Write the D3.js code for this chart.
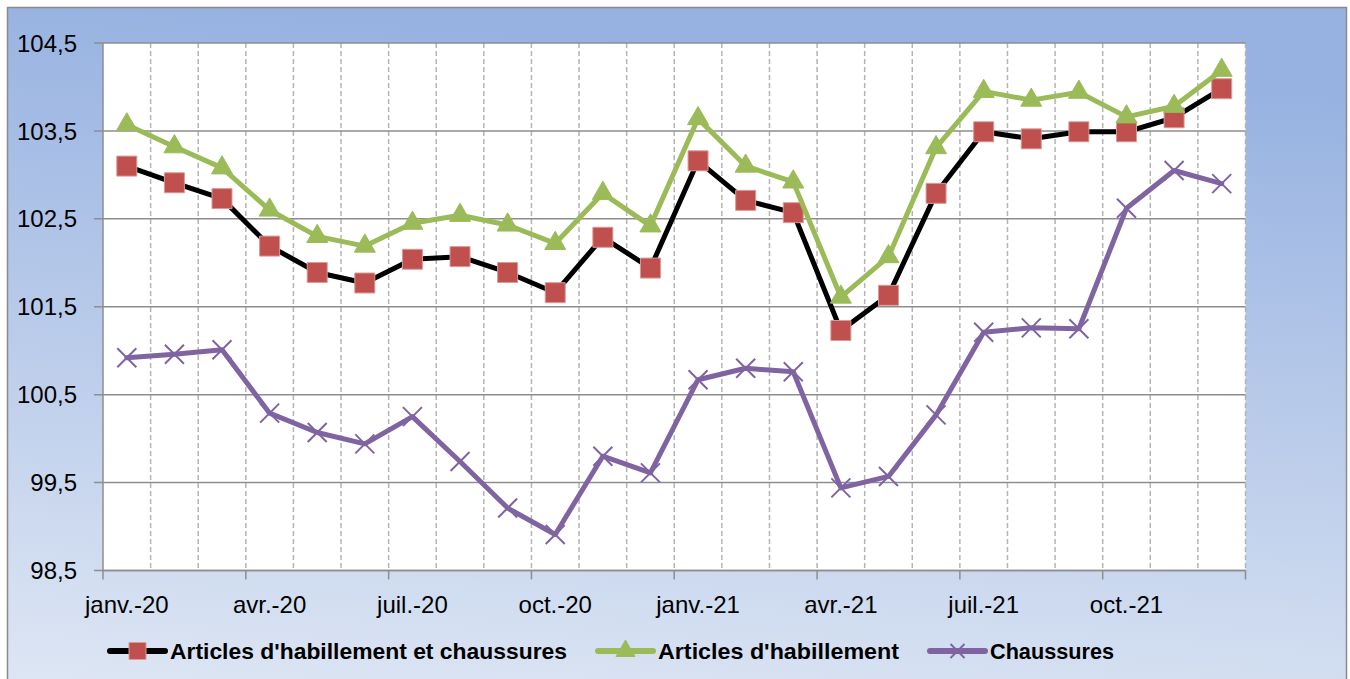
<!DOCTYPE html>
<html>
<head>
<meta charset="utf-8">
<script src="https://cdn.jsdelivr.net/npm/d3@7"></script>
<style>
  html, body { margin: 0; padding: 0; background: #fff; }
  svg { display: block; font-family: "Liberation Sans", Arial, sans-serif; }
</style>
</head>
<body>
<div id="chart"></div>
<script>
// Months (Jan 2020 - Dec 2021), label shown every 3 months
const months = [
  'janv.-20', 'févr.-20', 'mars-20', 'avr.-20', 'mai-20', 'juin-20',
  'juil.-20', 'août-20', 'sept.-20', 'oct.-20', 'nov.-20', 'déc.-20',
  'janv.-21', 'févr.-21', 'mars-21', 'avr.-21', 'mai-21', 'juin-21',
  'juil.-21', 'août-21', 'sept.-21', 'oct.-21', 'nov.-21', 'déc.-21'
];
const yTicks = [98.5, 99.5, 100.5, 101.5, 102.5, 103.5, 104.5];

const habEtChaussures = [
  103.10, 102.91, 102.73, 102.19, 101.89, 101.77, 102.04, 102.07, 101.89, 101.66, 102.29, 101.94,
  103.16, 102.71, 102.57, 101.23, 101.63, 102.79, 103.49, 103.41, 103.49, 103.49, 103.65, 103.98
];
const habillement = [
  103.57, 103.32, 103.08, 102.60, 102.30, 102.19, 102.45, 102.54, 102.43, 102.22, 102.79, 102.42,
  103.64, 103.10, 102.92, 101.61, 102.07, 103.31, 103.95, 103.85, 103.94, 103.66, 103.78, 104.19
];
const chaussures = [
  100.92, 100.96, 101.01, 100.29, 100.07, 99.94, 100.25, 99.74, 99.21, 98.91, 99.80, 99.61,
  100.67, 100.80, 100.76, 99.44, 99.57, 100.27, 101.21, 101.26, 101.25, 102.62, 103.05, 102.90
];

const seriesNames = ["Articles d'habillement et chaussures", "Articles d'habillement", "Chaussures"];

function renderChart(containerId) {
  const container = document.getElementById(containerId);
  const width = 1350, height = 679;
  const plot = { left: 103, right: 1245.5, top: 43, bottom: 570.5 };

  const svg = d3.select(container).append('svg')
    .attr('width', width)
    .attr('height', height);

  // Background gradient
  const defs = svg.append('defs');
  const grad = defs.append('linearGradient')
    .attr('id', 'bg')
    .attr('x1', 0.15).attr('y1', 0).attr('x2', 0).attr('y2', 1);
  grad.append('stop').attr('offset', '0%').attr('stop-color', '#97b2e1');
  grad.append('stop').attr('offset', '100%').attr('stop-color', '#dfe7f4');

  svg.append('rect')
    .attr('x', 7.5).attr('y', 7.5)
    .attr('width', 1339).attr('height', 690)
    .attr('fill', 'url(#bg)')
    .attr('stroke', '#8a8a8a')
    .attr('stroke-width', 1.5);

  // Scales
  const x = d3.scaleBand().domain(months).range([plot.left, plot.right]).padding(0);
  const bw = x.bandwidth();
  const xc = d => x(d) + bw / 2;
  const y = d3.scaleLinear().domain([98.5, 104.5]).range([plot.bottom, plot.top]);

  // Plot area
  svg.append('rect')
    .attr('x', plot.left).attr('y', plot.top)
    .attr('width', plot.right - plot.left).attr('height', plot.bottom - plot.top)
    .attr('fill', '#fff');

  // Vertical dashed gridlines at month boundaries
  const boundaries = d3.range(1, months.length + 1).map(i => plot.left + i * bw);
  svg.append('g').selectAll('line')
    .data(boundaries)
    .enter().append('line')
    .attr('x1', d => d).attr('x2', d => d)
    .attr('y1', plot.top).attr('y2', plot.bottom)
    .attr('stroke', '#b4b4b4')
    .attr('stroke-width', 1.5)
    .attr('stroke-dasharray', '5,3');

  // Horizontal gridlines + y ticks
  svg.append('g').selectAll('line')
    .data(yTicks)
    .enter().append('line')
    .attr('x1', plot.left - 9).attr('x2', plot.right)
    .attr('y1', d => y(d)).attr('y2', d => y(d))
    .attr('stroke', '#8e8e8e')
    .attr('stroke-width', 1.5);

  svg.append('g').selectAll('text')
    .data(yTicks)
    .enter().append('text')
    .attr('x', 77)
    .attr('y', d => y(d) + 8.6)
    .attr('text-anchor', 'end')
    .style('font-size', '24px')
    .attr('fill', '#000')
    .text(d => d3.format('.1f')(d).replace('.', ','));

  // Axes lines
  svg.append('line')
    .attr('x1', plot.left).attr('x2', plot.left)
    .attr('y1', plot.top).attr('y2', plot.bottom)
    .attr('stroke', '#8e8e8e').attr('stroke-width', 1.5);
  svg.append('line')
    .attr('x1', plot.left).attr('x2', plot.right)
    .attr('y1', plot.bottom).attr('y2', plot.bottom)
    .attr('stroke', '#8e8e8e').attr('stroke-width', 1.5);

  // x tick marks every 3 months
  const xTickPos = d3.range(0, months.length + 1, 3).map(i => plot.left + i * bw);
  svg.append('g').selectAll('line')
    .data(xTickPos)
    .enter().append('line')
    .attr('x1', d => d).attr('x2', d => d)
    .attr('y1', plot.bottom).attr('y2', plot.bottom + 9)
    .attr('stroke', '#8e8e8e').attr('stroke-width', 1.5);

  svg.append('g').selectAll('text')
    .data(months.filter((m, i) => i % 3 === 0))
    .enter().append('text')
    .attr('x', d => xc(d))
    .attr('y', 613)
    .attr('text-anchor', 'middle')
    .style('font-size', '24px')
    .text(d => d);

  // Markers
  const square = s => d3.symbol(d3.symbolSquare, s * s)();
  const triangle = s => d3.symbol(d3.symbolTriangle, s * s * Math.sqrt(3) / 4)();
  const cross = s => `M${-s / 2},${-s / 2}L${s / 2},${s / 2}M${-s / 2},${s / 2}L${s / 2},${-s / 2}`;

  const series = [
    { name: seriesNames[0], values: habEtChaussures, line: '#000000', lw: 5,
      marker: square, ms: 20, lms: 17, fill: '#c0504d', mstroke: '#d99a98', msw: 1 },
    { name: seriesNames[1], values: habillement, line: '#9bbb59', lw: 5,
      marker: triangle, ms: 21, lms: 19, fill: '#9bbb59', mstroke: '#9bbb59', msw: 1 },
    { name: seriesNames[2], values: chaussures, line: '#8064a2', lw: 5,
      marker: cross, ms: 19, lms: 14, fill: 'none', mstroke: '#8064a2', msw: 2 }
  ];

  const line = d3.line()
    .x((d, i) => xc(months[i]))
    .y(d => y(d));

  series.forEach(s => {
    const g = svg.append('g');
    g.append('path')
      .datum(s.values)
      .attr('d', line)
      .attr('fill', 'none')
      .attr('stroke', s.line)
      .attr('stroke-width', s.lw)
      .attr('stroke-linejoin', 'round')
      .attr('stroke-linecap', 'round');
    g.selectAll('.m')
      .data(s.values)
      .enter().append('path')
      .attr('class', 'm')
      .attr('transform', (d, i) => `translate(${xc(months[i])},${y(d)})`)
      .attr('d', s.marker(s.ms))
      .attr('fill', s.fill)
      .attr('stroke', s.mstroke)
      .attr('stroke-width', s.msw);
  });

  // Legend
  const legendWidths = [397, 241, 124];
  let lx = 110;
  const ly = 651;
  series.forEach((s, i) => {
    const g = svg.append('g');
    g.append('line')
      .attr('x1', lx).attr('x2', lx + 55)
      .attr('y1', ly).attr('y2', ly)
      .attr('stroke', s.line)
      .attr('stroke-width', s.lw + 1)
      .attr('stroke-linecap', 'round');
    g.append('path')
      .attr('transform', `translate(${lx + 27.5},${ly})`)
      .attr('d', s.marker(s.lms))
      .attr('fill', s.fill)
      .attr('stroke', s.mstroke)
      .attr('stroke-width', s.msw);
    g.append('text')
      .attr('x', lx + 60)
      .attr('y', 659)
      .attr('textLength', legendWidths[i])
      .attr('lengthAdjust', 'spacingAndGlyphs')
      .style('font-size', '22px')
      .style('font-weight', 'bold')
      .text(s.name);
    lx += 60 + legendWidths[i] + 31;
  });
}

renderChart('chart');
</script>
</body>
</html>
